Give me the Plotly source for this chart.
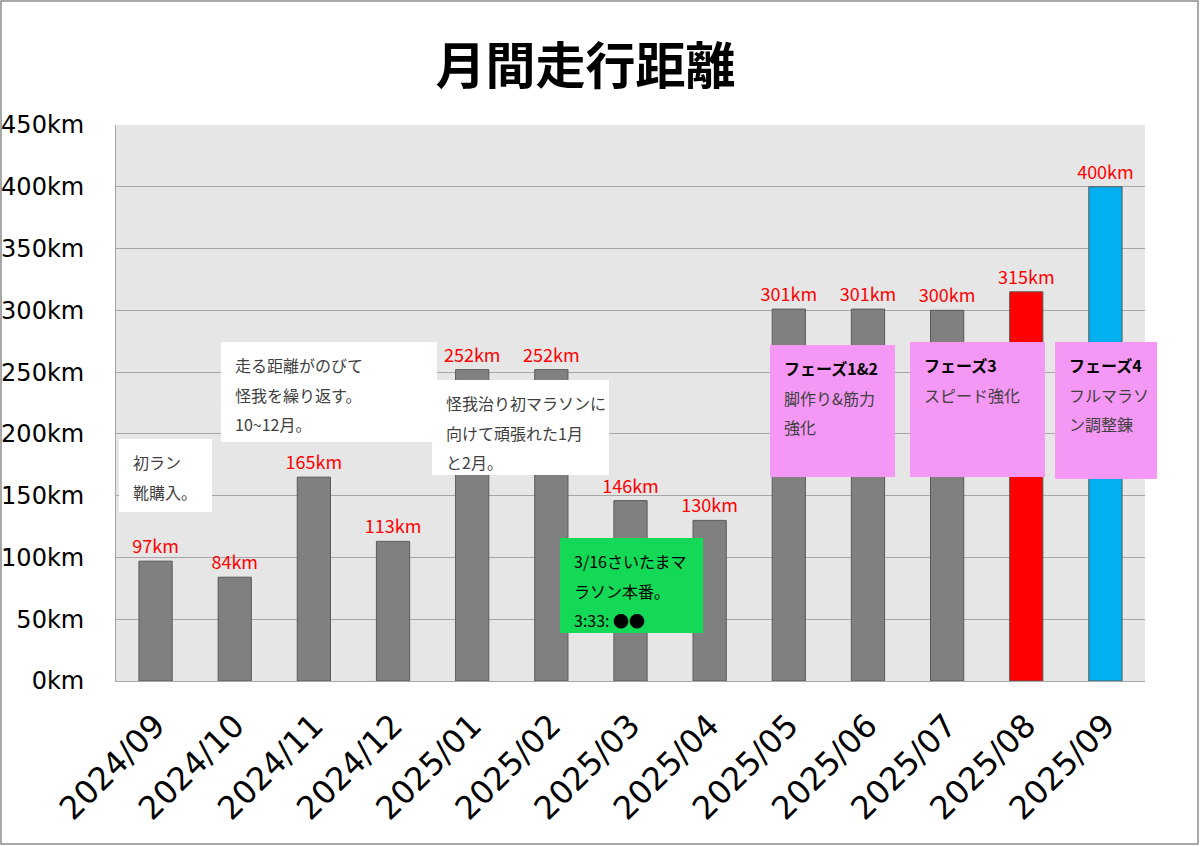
import plotly.graph_objects as go

months = ["2024/09", "2024/10", "2024/11", "2024/12", "2025/01", "2025/02", "2025/03",
          "2025/04", "2025/05", "2025/06", "2025/07", "2025/08", "2025/09"]
distance_km = [97, 84, 165, 113, 252, 252, 146, 130, 301, 301, 300, 315, 400]
bar_colors = ["#808080"] * 11 + ["#ff0000", "#00b0f0"]

# callout boxes: (x0, y0, x1, y1) in window pixels, fill, text lines
notes = [
    ((119, 439, 212, 512), "#ffffff", ["初ラン", "靴購入。"]),
    ((221, 342, 437, 442), "#ffffff", ["走る距離がのびて", "怪我を繰り返す。", "10~12月。"]),
    ((432, 380, 609, 475), "#ffffff", ["怪我治り初マラソンに", "向けて頑張れた1月", "と2月。"]),
    ((560, 538, 703, 633), "#14d957", ["3/16さいたまマ", "ラソン本番。", "3:33: ●●"]),
    ((770, 345, 895, 477), "#f598f5", ["<b>フェーズ1&2</b>", "脚作り&筋力", "強化"]),
    ((910, 342, 1045, 477), "#f598f5", ["<b>フェーズ3</b>", "スピード強化"]),
    ((1055, 342, 1157, 479), "#f598f5", ["<b>フェーズ4</b>", "フルマラソ", "ン調整錬"]),
]

W, H = 1200, 846
L, R, T, B = 116, 1145, 125, 681
JP = "Noto Sans CJK JP"


def px(x):
    return (x - L) / (R - L)


def py(y):
    return (B - y) / (B - T)


fig = go.Figure()
fig.add_trace(go.Bar(
    x=months, y=distance_km,
    marker=dict(color=bar_colors, line=dict(color="#5a5a5a", width=1)),
    width=0.42,
    text=[f"{v}km" for v in distance_km], texttemplate="%{text}", textposition="outside",
    textfont=dict(color="#ff0000", size=18, family=JP),
    constraintext="none", cliponaxis=False,
))

shapes = [dict(type="rect", xref="paper", yref="paper",
               x0=px(1), x1=px(W - 2), y0=py(1), y1=py(H - 2),
               line=dict(color="#8c8c8c", width=1.5), layer="below")]
annotations = []
for (x0, y0, x1, y1), fill, lines in notes:
    shapes.append(dict(type="rect", xref="paper", yref="paper",
                       x0=px(x0), x1=px(x1), y0=py(y0), y1=py(y1),
                       fillcolor=fill, line=dict(width=0), layer="above"))
    bold = lines[0].startswith("<b>")
    for i, line in enumerate(lines):
        ty = y0 + 23 + i * 29.5
        annotations.append(dict(
            xref="paper", yref="paper", x=px(x0 + 12), y=py(ty),
            text=line, showarrow=False, xanchor="left", yanchor="middle",
            font=dict(family=JP, size=16,
                      color="#000000" if (bold and i == 0) or fill == "#14d957" else "#404040"),
        ))

fig.update_layout(
    width=W, height=H, autosize=False,
    margin=dict(l=L, r=W - R, t=T, b=H - B),
    paper_bgcolor="#ffffff", plot_bgcolor="#e6e6e6",
    title=dict(text="<b>月間走行距離</b>", x=0.488, xanchor="center", y=1 - 66 / H, yanchor="middle",
               font=dict(family=JP, size=50, color="#000000"), automargin=False),
    showlegend=False,
    shapes=shapes, annotations=annotations,
    bargap=0.58,
)
fig.update_yaxes(range=[0, 450], dtick=50, ticksuffix="km", automargin=False,
                 tickfont=dict(family="DejaVu Sans", size=24, color="#000000"),
                 gridcolor="#a6a6a6", gridwidth=1, showline=True, linecolor="#a6a6a6",
                 zeroline=False, ticks="", ticklabelstandoff=26)
fig.update_xaxes(tickangle=-45, tickfont=dict(family="DejaVu Sans", size=32, color="#000000"),
                 automargin=False, showline=True, linecolor="#a6a6a6", showgrid=False,
                 ticklabelstandoff=12)

fig.write_html("out.html", config={"displayModeBar": False},
               post_script="document.body.style.margin='0';")
